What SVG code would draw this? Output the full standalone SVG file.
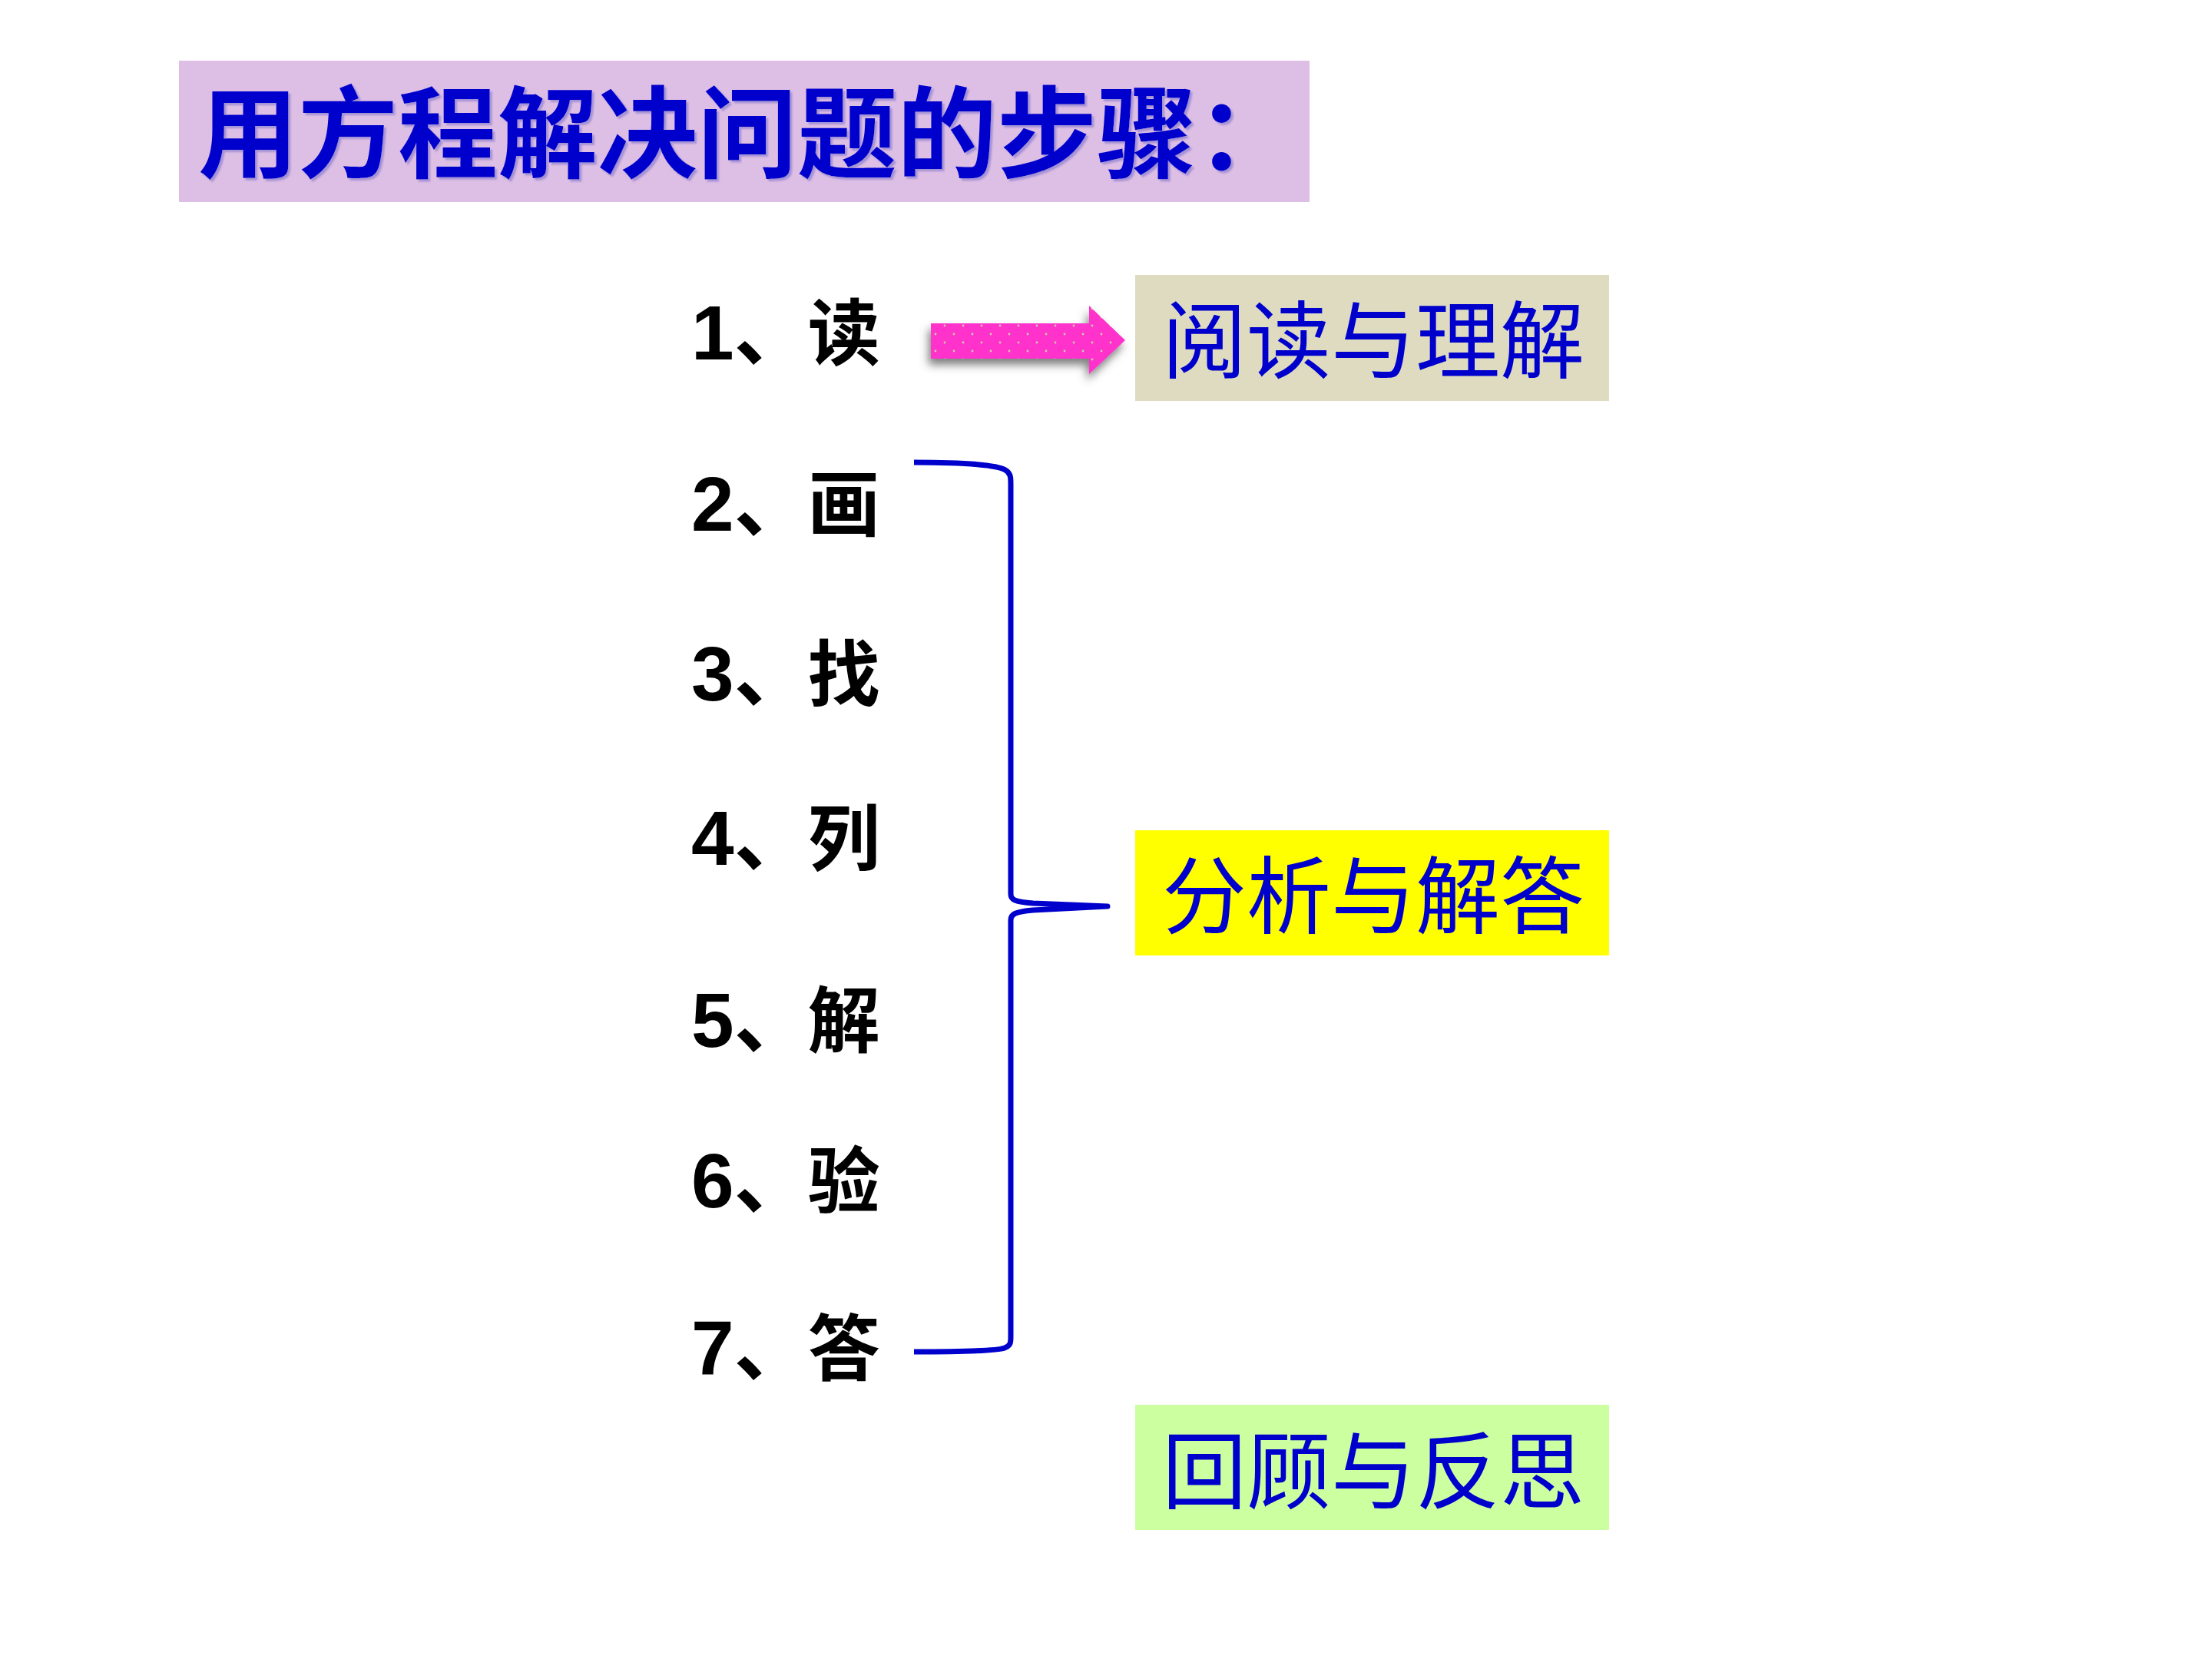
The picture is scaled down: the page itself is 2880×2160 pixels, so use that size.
<svg xmlns="http://www.w3.org/2000/svg" width="2880" height="2160" viewBox="0 0 2880 2160">
<defs>
<style>
.title{font-family:"Noto Sans CJK SC","Noto Sans CJK JP",sans-serif;font-size:130px;font-weight:bold;fill:#0000CC;}
.step{font-family:"Liberation Sans","Noto Sans CJK SC",sans-serif;font-size:100px;font-weight:bold;fill:#000000;}
.ch{font-size:94px;}
.lbl{font-family:"Noto Sans CJK SC","Noto Sans CJK JP",sans-serif;font-size:110px;font-weight:normal;fill:#0000CC;text-anchor:middle;}
.brace{fill:none;stroke:#0000CC;stroke-width:7;stroke-linejoin:round;stroke-linecap:butt;}
</style>
<filter id="tshadow" x="-5%" y="-10%" width="110%" height="130%">
<feDropShadow dx="3" dy="3" stdDeviation="1" flood-color="#8C7FD0" flood-opacity="0.7"/>
</filter>
<filter id="ashadow" x="-20%" y="-40%" width="140%" height="190%">
<feDropShadow dx="-3" dy="8" stdDeviation="6" flood-color="#555555" flood-opacity="0.75"/>
</filter>
<pattern id="dots" x="0" y="0" width="24" height="22" patternUnits="userSpaceOnUse">
<rect width="24" height="22" fill="#FF33CC"/>
<circle cx="6" cy="6" r="1.4" fill="#C8C8A8"/>
<circle cx="18" cy="17" r="1.4" fill="#C8C8A8"/>
</pattern>
</defs>
<rect width="2880" height="2160" fill="#FFFFFF"/>

<g id="title">
<rect x="233" y="79" width="1472" height="184" fill="#DDBEE4"/>
<text class="title" x="258" y="221" filter="url(#tshadow)">用方程解决问题的步骤：</text>
</g>

<g id="step1"><text class="step" x="900" y="468">1、<tspan class="ch" dx="-4">读</tspan></text></g>
<g id="step2"><text class="step" x="900" y="691">2、<tspan class="ch" dx="-4">画</tspan></text></g>
<g id="step3"><text class="step" x="900" y="912">3、<tspan class="ch" dx="-4">找</tspan></text></g>
<g id="step4"><text class="step" x="900" y="1126">4、<tspan class="ch" dx="-4">列</tspan></text></g>
<g id="step5"><text class="step" x="900" y="1363">5、<tspan class="ch" dx="-4">解</tspan></text></g>
<g id="step6"><text class="step" x="900" y="1572">6、<tspan class="ch" dx="-4">验</tspan></text></g>
<g id="step7"><text class="step" x="900" y="1790">7、<tspan class="ch" dx="-4">答</tspan></text></g>

<g id="box-read">
<rect x="1478" y="358" width="617" height="164" fill="#DEDBC0"/>
<text class="lbl" x="1788" y="484">阅读与理解</text>
</g>
<g id="box-analyze">
<rect x="1478" y="1081" width="617" height="163" fill="#FFFF00"/>
<text class="lbl" x="1788" y="1207">分析与解答</text>
</g>
<g id="box-review">
<rect x="1478" y="1829" width="617" height="163" fill="#CCFFA0"/>
<text class="lbl" x="1788" y="1956">回顾与反思</text>
</g>

<g id="connectors">
<path id="arrow" d="M1212 421 L1418 421 L1418 398 L1465 443 L1418 487 L1418 467 L1212 467 Z" fill="url(#dots)" filter="url(#ashadow)"/>
<path id="brace" class="brace" d="M1190 602 C1260 602 1300 606 1309 612 C1316 616 1316 622 1316 630 L1316 1164 C1316 1172 1322 1174 1345 1176 L1442 1180 L1345 1185 C1322 1187 1316 1190 1316 1198 L1316 1740 C1316 1748 1316 1752 1308 1755 C1300 1758 1260 1760 1190 1760"/>
</g>
</svg>
